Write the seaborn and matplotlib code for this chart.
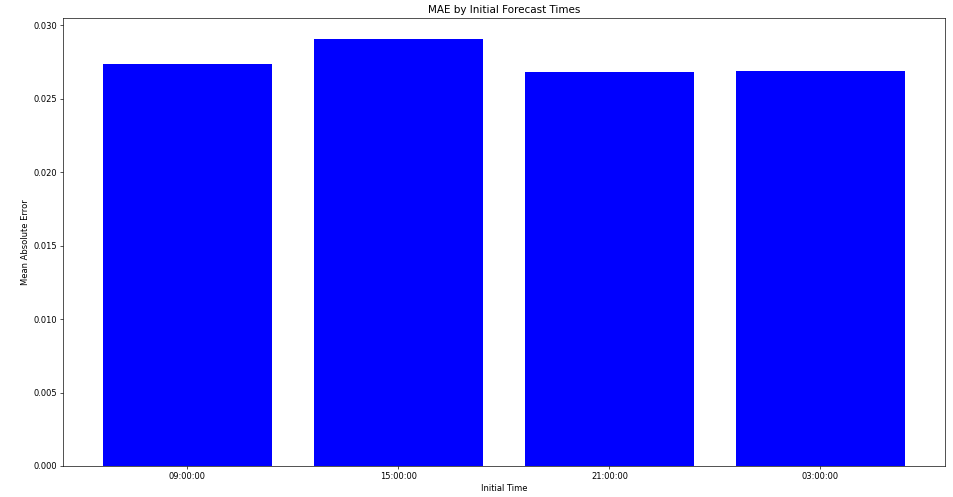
import seaborn as sns
import matplotlib.pyplot as plt
import pandas as pd

# ---- values ----
init_times = ['09:00:00', '15:00:00', '21:00:00', '03:00:00']
mae = [0.02735, 0.02905, 0.02682, 0.02687]

df = pd.DataFrame({'Initial Time': init_times, 'MAE': mae})

plt.rcParams['font.family'] = ['DejaVu Sans']
# reference looks like a larger figure scaled down, so draw at low dpi
DPI = 60
fig, ax = plt.subplots(figsize=(953 / DPI, 497 / DPI), dpi=DPI)
fig.subplots_adjust(left=0.066, right=0.9916, top=0.9638, bottom=0.0624)

sns.barplot(data=df, x='Initial Time', y='MAE', color='blue', saturation=1,
            width=0.8, ax=ax, edgecolor='none')
ax.set_xlim(-0.59, 3.59)
ax.set_ylim(0, 0.0305)
ax.set_yticks([0.0, 0.005, 0.010, 0.015, 0.020, 0.025, 0.030])
ax.set_yticklabels([f'{v:.3f}' for v in ax.get_yticks()])
ax.set_xlabel('Initial Time')
ax.set_ylabel('Mean Absolute Error')
ax.set_title('MAE by Initial Forecast Times', fontsize=12.5)

plt.savefig('out.png', dpi=DPI)
